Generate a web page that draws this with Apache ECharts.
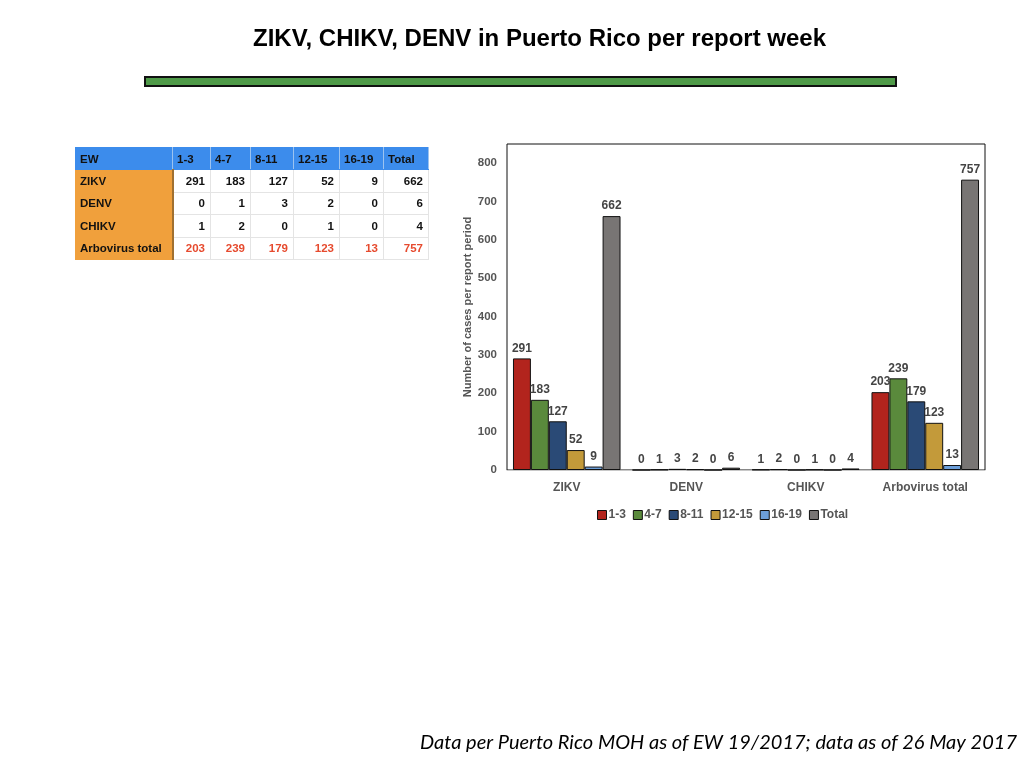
<!DOCTYPE html>
<html>
<head>
<meta charset="utf-8">
<script src="https://cdn.jsdelivr.net/npm/echarts@6/dist/echarts.min.js"></script>
<style>
  html, body { margin: 0; padding: 0; background: #fff; }
  #chart { position: absolute; left: 0; top: 0; width: 1024px; height: 768px; }
  #tbl {
    position: absolute; left: 75px; top: 147px; border-collapse: collapse;
    font-family: "Liberation Sans", Arial, sans-serif; font-size: 11.5px; font-weight: bold;
  }
  #tbl td { height: 22.4px; padding: 0 5px 0 4px; border: 1px solid #e4e4e4; box-sizing: border-box; }
  #tbl tr.head td { background: #3c8cec; color: #111; text-align: left; border-color: #3c8cec; border-right-color: #9cc3f0; }
  #tbl td.rowname { background: #f0a03c; color: #111; text-align: left; border-color: #f0a03c; border-right: 2px solid #a07030; }
  #tbl td.num { text-align: right; color: #111; background: #fff; }
  #tbl tr.total td.num { color: #e64a2e; }
</style>
</head>
<body>
<div id="chart"></div>
<table id="tbl"></table>
<script>
// report periods (epi weeks) and viruses
const periods = ['1-3', '4-7', '8-11', '12-15', '16-19', 'Total']
const viruses = ['ZIKV', 'DENV', 'CHIKV', 'Arbovirus total']

// cases per virus, one value per period
const zikv = [291, 183, 127, 52, 9, 662]
const denv = [0, 1, 3, 2, 0, 6]
const chikv = [1, 2, 0, 1, 0, 4]
const arboTotal = [203, 239, 179, 123, 13, 757]

const rows = [zikv, denv, chikv, arboTotal]
const colors = ['#b2241d', '#5a8a3c', '#2a4a76', '#c39a3a', '#6c9fda', '#787574']
const colWidths = [97, 38, 40, 43, 46, 44, 45]

// table on the left, built from the same arrays
function buildTable () {
  const tbl = document.getElementById('tbl')
  let html = '<tr class="head"><td style="width:' + colWidths[0] + 'px">EW</td>'
  periods.forEach((p, i) => {
    html += '<td style="width:' + colWidths[i + 1] + 'px">' + p + '</td>'
  })
  html += '</tr>'
  viruses.forEach((v, r) => {
    const cls = r === viruses.length - 1 ? ' class="total"' : ''
    html += '<tr' + cls + '><td class="rowname">' + v + '</td>'
    rows[r].forEach(val => { html += '<td class="num">' + val + '</td>' })
    html += '</tr>'
  })
  tbl.innerHTML = html
}

function renderChart () {
  const chart = echarts.init(document.getElementById('chart'))
  const series = periods.map((p, i) => ({
    name: p,
    type: 'bar',
    data: rows.map(r => r[i]),
    barGap: '0%',
    barCategoryGap: '10%',
    itemStyle: { color: colors[i], borderColor: '#111', borderWidth: 1 },
    label: {
      show: true,
      position: 'top',
      distance: 4,
      color: '#444',
      fontWeight: 'bold',
      fontSize: 12,
      fontFamily: 'Liberation Sans'
    }
  }))

  const option = {
    animation: false,
    textStyle: { fontFamily: 'Liberation Sans' },
    title: {
      text: 'ZIKV, CHIKV, DENV in Puerto Rico per report week',
      left: 248,
      top: 22,
      textStyle: { fontSize: 24, fontWeight: 'bold', color: '#000', fontFamily: 'Liberation Sans' }
    },
    graphic: [
      {
        type: 'rect',
        shape: { x: 145, y: 77, width: 751, height: 9 },
        style: { fill: '#4f9a48', stroke: '#111', lineWidth: 2 }
      },
      {
        type: 'text',
        right: 7,
        top: 733,
        style: {
          text: 'Data per Puerto Rico MOH as of EW 19/2017; data as of 26 May 2017',
          font: 'italic 20px Lato',
          fill: '#000'
        }
      }
    ],
    grid: {
      left: 507,
      right: 39,
      top: 144,
      bottom: 298,
      show: true,
      borderColor: '#111',
      borderWidth: 1,
      containLabel: false
    },
    legend: {
      data: periods,
      top: 504,
      left: 592,
      icon: 'rect',
      itemWidth: 9,
      itemHeight: 9,
      itemGap: 7,
      itemStyle: { borderColor: '#111', borderWidth: 1 },
      textStyle: { color: '#555', fontWeight: 'bold', fontSize: 12, padding: [0, 0, 0, -3] }
    },
    xAxis: {
      type: 'category',
      data: viruses,
      axisLine: { lineStyle: { color: '#c8c8c8', width: 1 } },
      axisTick: { show: false },
      axisLabel: { color: '#555', fontWeight: 'bold', fontSize: 12, margin: 12 }
    },
    yAxis: {
      type: 'value',
      min: 0,
      max: 850,
      interval: 100,
      name: 'Number of cases per report period',
      nameLocation: 'middle',
      nameGap: 34,
      nameTextStyle: { color: '#555', fontWeight: 'bold', fontSize: 11 },
      axisLine: { show: false },
      axisTick: { show: false },
      splitLine: { show: false },
      axisLabel: { color: '#555', fontWeight: 'bold', fontSize: 11.5, margin: 10, showMaxLabel: false }
    },
    series
  }
  chart.setOption(option)
}

buildTable()
renderChart()
</script>
</body>
</html>
